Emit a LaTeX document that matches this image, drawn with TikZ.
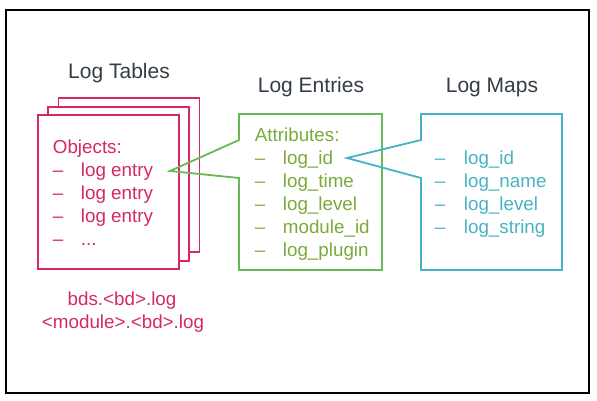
\documentclass[tikz,border=0pt]{standalone}
\usepackage{fontspec}
\setmainfont{Liberation Sans}
\usepackage{tikz}
\usetikzlibrary{positioning}

\definecolor{tabred}{RGB}{214,40,98}
\definecolor{entgreen}{RGB}{104,184,88}
\definecolor{enttext}{RGB}{122,170,60}
\definecolor{mapcyan}{RGB}{72,178,196}
\definecolor{titlegray}{RGB}{52,60,70}

\begin{document}
\begin{tikzpicture}[x=1pt,y=-1pt,line width=1.8pt,
  page/.style={draw=tabred,fill=white,minimum width=141pt,minimum height=154pt,inner sep=0pt},
  title/.style={font=\fontsize{21}{23}\selectfont,text=titlegray,anchor=base},
  item/.style={font=\fontsize{18.8}{20}\selectfont,anchor=base west,inner sep=0pt}]
  \useasboundingbox (0,0) rectangle (597,400);
  \draw[line width=2.2pt] (6,10) rectangle (589,393);

  % log tables
  \node[page](page3) at (129,175){};
  \node[page](page2) at (118.5,184){};
  \node[page](page1) at (108.5,192){};
  \node[title](tables) at (119,78){Log Tables};
  \node[item,text=tabred](obj) at (52,153){Objects:};
  \foreach \y/\t [count=\i] in {176/log entry,199/log entry,222/log entry,245/{.{}.{}.}}{
    \node[item,text=tabred](objd\i) at (52,\y){--};
    \node[item,text=tabred](obj\i) at (80,\y){\t};
  }
  \node[item,text=tabred,anchor=base](file1) at (122,305){bds.<bd>.log};
  \node[item,text=tabred,anchor=base](file2) at (123,328){<module>.<bd>.log};

  % log entries
  \coordinate (enttip) at (170,171);
  \draw[entgreen,line join=miter] (239,140) -- (239,114) -- (382,114) -- (382,270)
    -- (239,270) -- (239,178) -- (enttip) -- cycle;
  \node[title](entries) at (311,92){Log Entries};
  \node[item,text=enttext](attr) at (254,141){Attributes:};
  \foreach \y/\t [count=\i] in {164/log\_id,187/log\_time,210/log\_level,233/module\_id,256/log\_plugin}{
    \node[item,text=enttext](attrd\i) at (254,\y){--};
    \node[item,text=enttext](attr\i) at (282,\y){\t};
  }

  % log maps
  \coordinate (maptip) at (347,158);
  \draw[mapcyan,line join=miter] (421,140) -- (421,114) -- (562,114) -- (562,270)
    -- (421,270) -- (421,178) -- (maptip) -- cycle;
  \node[title](maps) at (492,92){Log Maps};
  \foreach \y/\t [count=\i] in {164/log\_id,187/log\_name,210/log\_level,233/log\_string}{
    \node[item,text=mapcyan](mapd\i) at (434,\y){--};
    \node[item,text=mapcyan](map\i) at (463,\y){\t};
  }
\end{tikzpicture}
\end{document}
